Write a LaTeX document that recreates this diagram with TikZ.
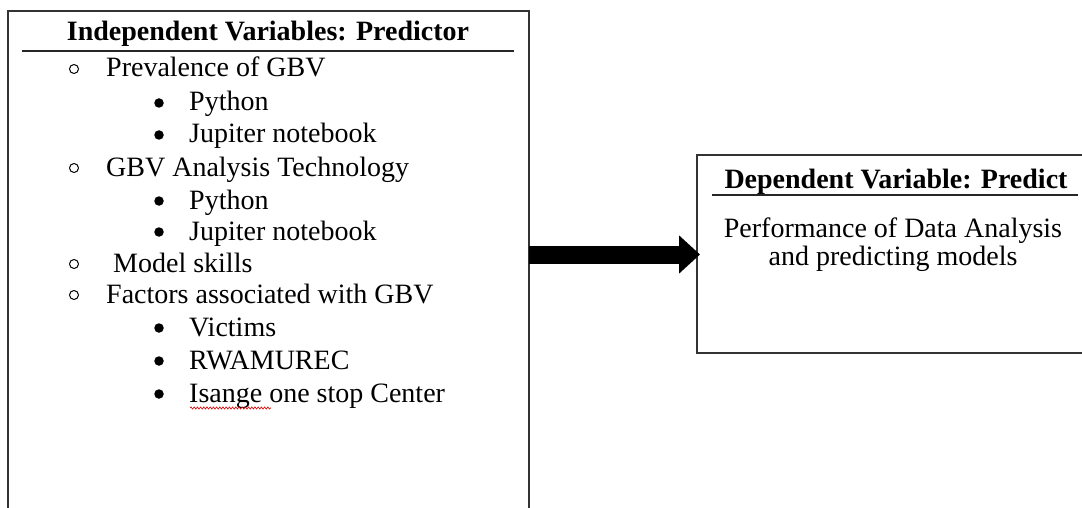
\documentclass[tikz,border=0pt]{standalone}
\usepackage{fontspec}
\setmainfont{Liberation Serif}
\usetikzlibrary{arrows.meta,calc,decorations.pathmorphing}

\begin{document}
\begin{tikzpicture}[x=1pt,y=-1pt,
  box/.style={draw=black!80, line width=1.3pt, inner sep=0pt, outer sep=0pt, anchor=north west},
  txt/.style={font=\fontsize{28}{33}\selectfont, inner sep=0pt, anchor=base west},
  ctxt/.style={font=\fontsize{28}{33}\selectfont, inner sep=0pt, anchor=base},
  head/.style={font=\bfseries\fontsize{28}{33}\selectfont, inner sep=0pt, anchor=base},
  rulestyle/.style={line width=1.2pt, draw=black!85},
  hollow/.style={circle, draw, line width=1pt, minimum size=9pt, inner sep=0pt},
  dot/.style={circle, fill, minimum size=9.5pt, inner sep=0pt},
]
\useasboundingbox (0,0) rectangle (1082,508);
\fill[white] (0,0) rectangle (1082,508);

% the two boxes
\node[box, minimum width=521pt, minimum height=530pt] (lbox) at (8,11) {};
\node[box, minimum width=400pt, minimum height=198pt] (rbox) at (697,155) {};

% left box: heading
\node[head] (lhead) at (268,41) {Independent Variables: Predictor};
\draw[rulestyle] (22,51) -- (514,51);

% left box: list
\node[hollow] (b1) at (74,69) {};
\node[txt] (t1) at (106,77) {Prevalence of GBV};
\node[dot] (b11) at (159,103) {};
\node[txt] (t11) at (189,111) {Python};
\node[dot] (b12) at (159,135) {};
\node[txt] (t12) at (189,143) {Jupiter notebook};
\node[hollow] (b2) at (74,168) {};
\node[txt] (t2) at (106,176) {GBV Analysis Technology};
\node[dot] (b21) at (159,201) {};
\node[txt] (t21) at (189,209) {Python};
\node[dot] (b22) at (159,232) {};
\node[txt] (t22) at (189,240) {Jupiter notebook};
\node[hollow] (b3) at (74,264) {};
\node[txt] (t3) at (113,272) {Model skills};
\node[hollow] (b4) at (74,295) {};
\node[txt] (t4) at (106,303) {Factors associated with GBV};
\node[dot] (b41) at (159,328) {};
\node[txt] (t41) at (189,336) {Victims};
\node[dot] (b42) at (159,361) {};
\node[txt] (t42) at (189,369) {RWAMUREC};
\node[dot] (b43) at (159,394) {};
\node[txt] (t43) at (189,402) {Isange one stop Center};
\draw[red!85!black, line width=0.6pt,
      decoration={snake, amplitude=1.1pt, segment length=3.2pt}, decorate]
  ($(t43.base west)+(1,6)$) -- ($(t43.base west)+(82,6)$);

% right box
\node[head] (rhead) at (896,189) {Dependent Variable: Predict};
\draw[rulestyle] (712,195) -- (1078,195);
\node[ctxt] (r1) at (893,237) {Performance of Data Analysis};
\node[ctxt] (r2) at (893,265) {and predicting models};

% connecting arrow
\coordinate (ay) at (0,254.5);
\coordinate (tip) at ($(rbox.west |- ay)+(3,0)$);
\draw[line width=18pt, -{Triangle[length=21pt,width=37pt]}]
  (lbox.east |- ay) -- (tip);
\end{tikzpicture}
\end{document}
